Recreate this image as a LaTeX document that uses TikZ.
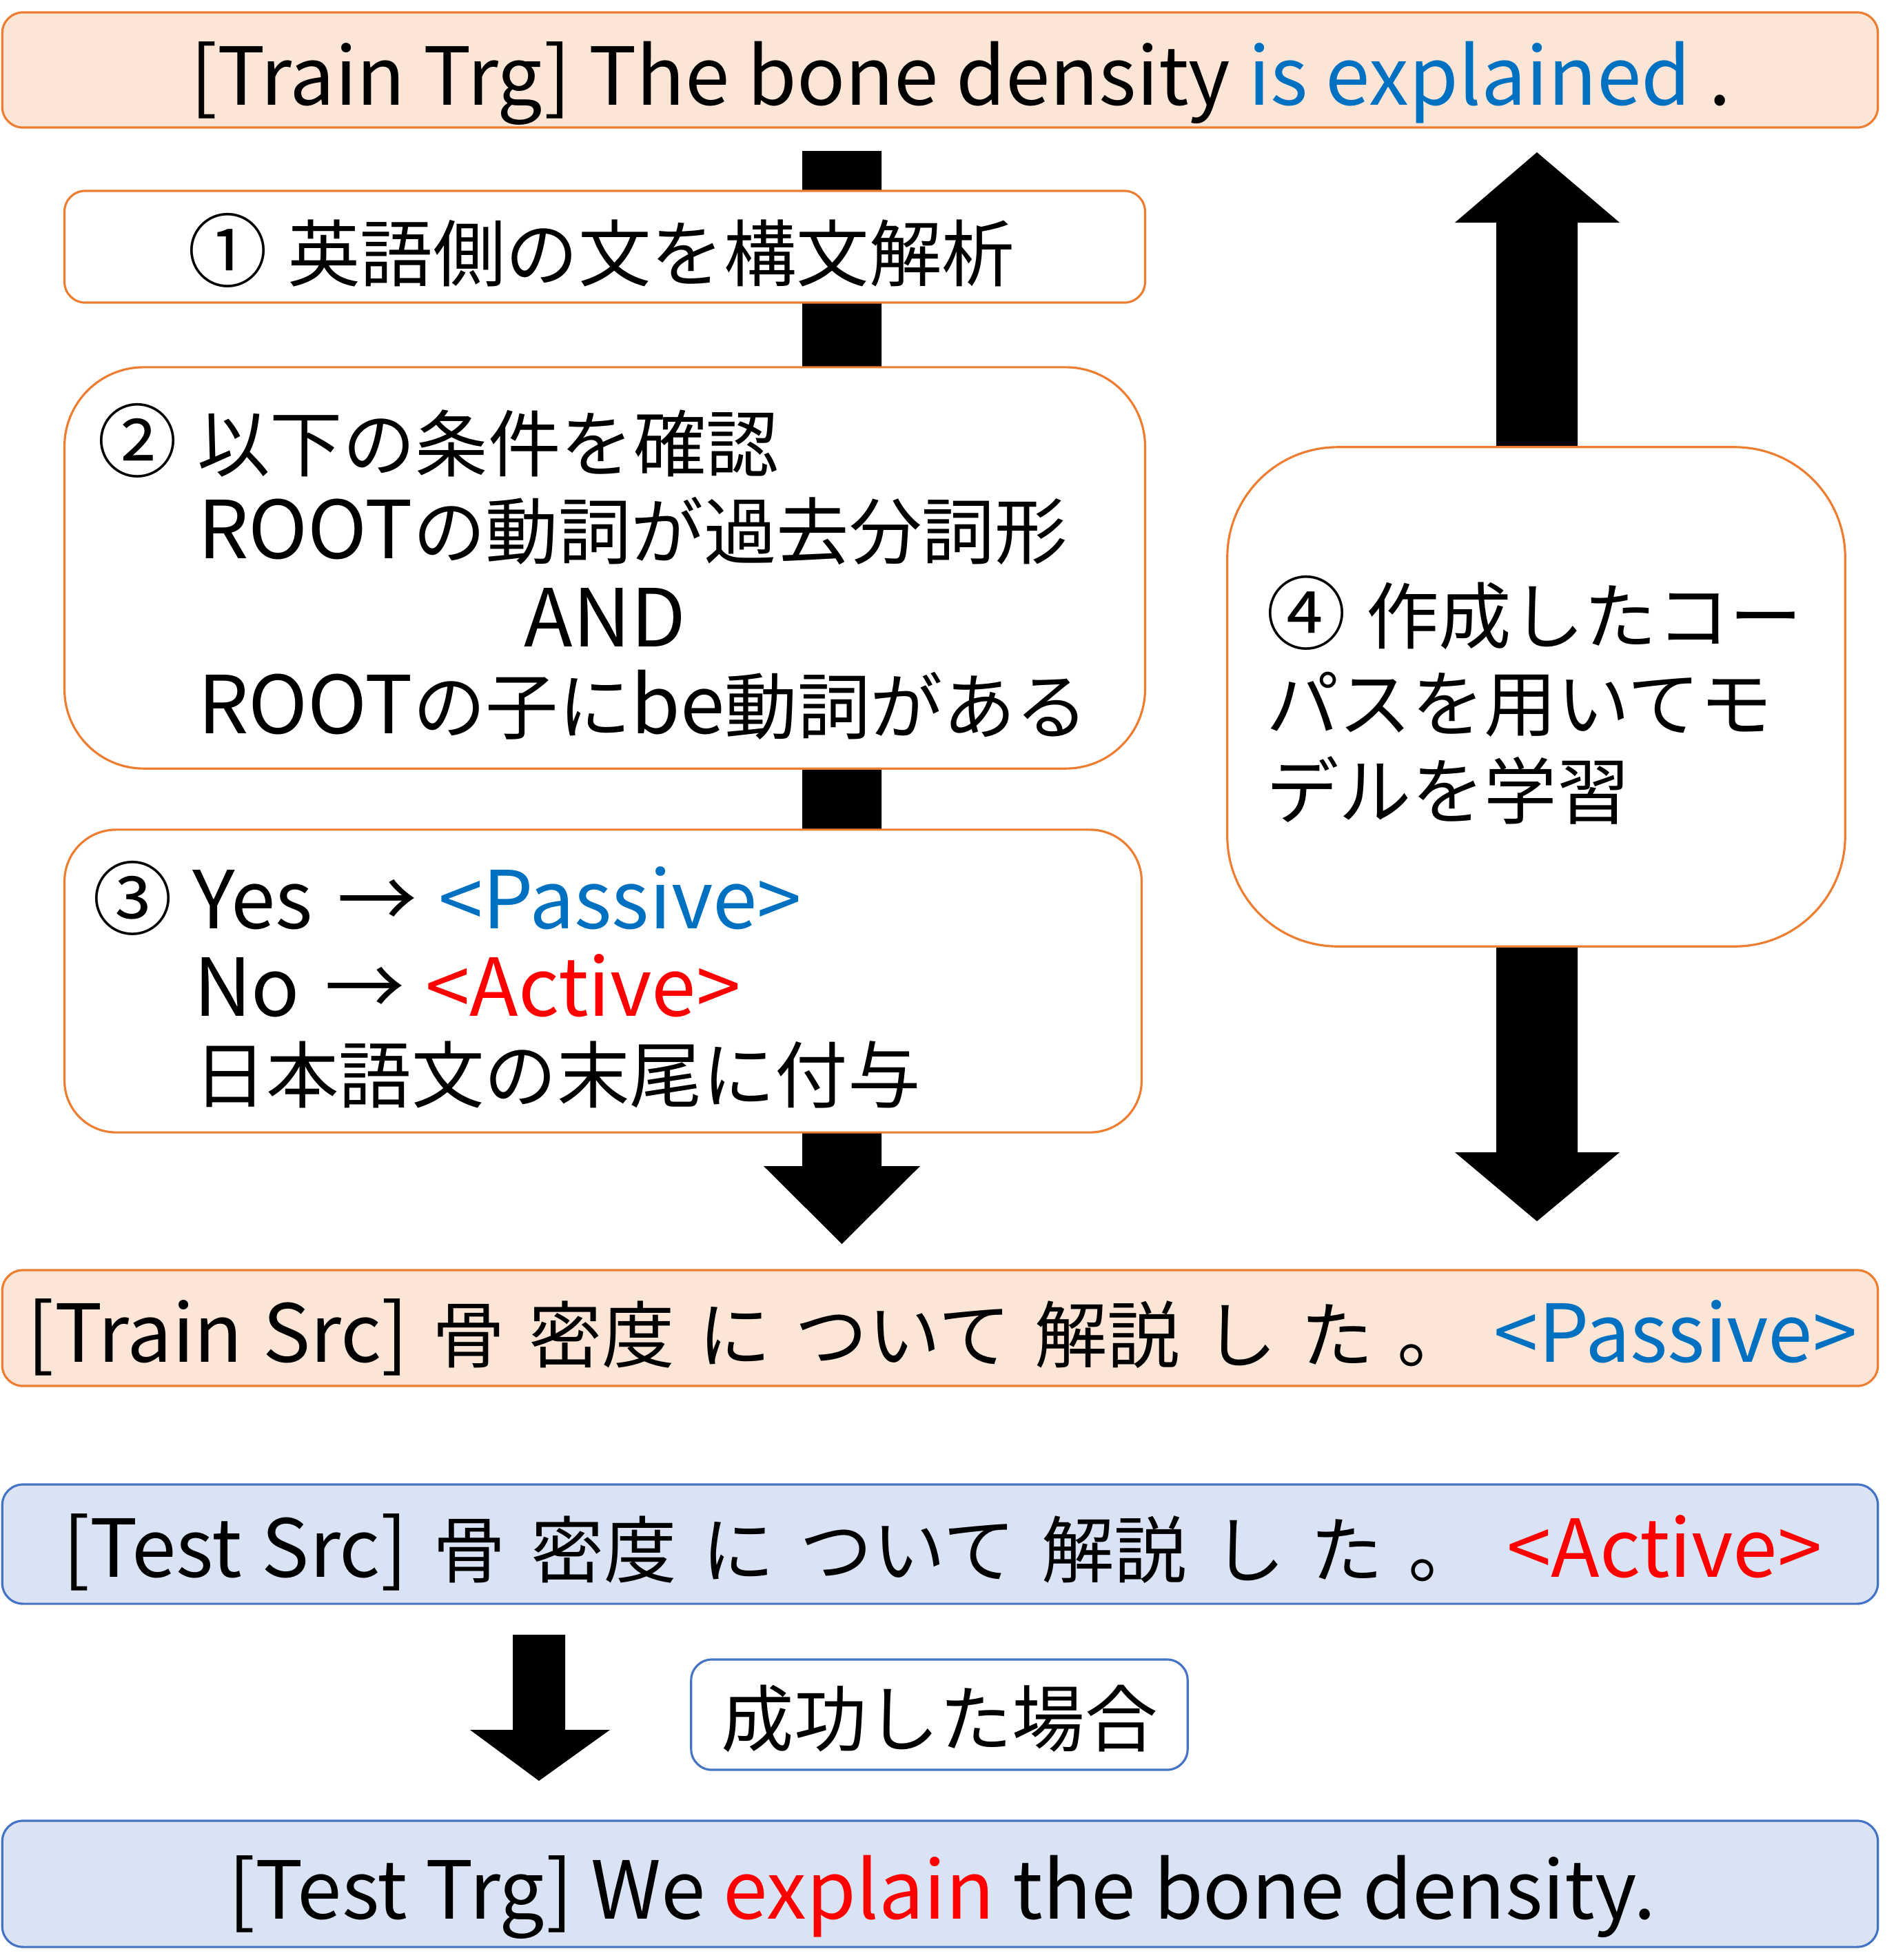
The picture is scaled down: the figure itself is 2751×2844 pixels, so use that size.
\documentclass[tikz,border=0pt]{standalone}
\usepackage{fontspec}
\setmainfont{Noto Sans CJK JP}
\definecolor{peach}{HTML}{FBE5D6}
\definecolor{orng}{HTML}{ED7D31}
\definecolor{lblue}{HTML}{DAE3F3}
\definecolor{bblue}{HTML}{4472C4}
\definecolor{txtblue}{HTML}{0070C0}
\definecolor{txtred}{HTML}{FF0000}
\newcommand{\lat}[1]{{\fontsize{33}{36}\selectfont #1}}
\newcommand{\cnum}[1]{\makebox[1.45cm][l]{\fontsize{33}{36}\selectfont #1}}
\newcommand{\rarr}{\hspace{0.36cm}{\fontsize{33}{36}\selectfont →}\hspace{0.3cm}}
\begin{document}
\begin{tikzpicture}[x=0.01cm,y=-0.01cm,
  every node/.style={font=\fontsize{30}{36}\selectfont, inner sep=0pt, outer sep=0pt},
  txt/.style={anchor=base west},
  ctxt/.style={anchor=base},
  bigtxt/.style={font=\fontsize{33}{36}\selectfont},
  obox/.style={draw=orng, line width=0.9pt, fill=peach, rounded corners=0.3cm},
  wobox/.style={draw=orng, line width=0.9pt, fill=white},
  bbox/.style={draw=bblue, line width=0.9pt, fill=lblue, rounded corners=0.3cm},
  wbbox/.style={draw=bblue, line width=0.9pt, fill=white, rounded corners=0.3cm}]
\useasboundingbox (0,0) rectangle (2751,2844);

% block arrows
\fill (1164,219) -- (1279,219) -- (1279,1692) -- (1335,1692) -- (1221.5,1805) -- (1108,1692) -- (1164,1692) -- cycle;
\fill (2230,221) -- (2350,323) -- (2289,323) -- (2289,1672) -- (2350,1672) -- (2230,1772) -- (2111,1672) -- (2171,1672) -- (2171,323) -- (2111,323) -- cycle;
\fill (744,2372) -- (820,2372) -- (820,2510) -- (885,2510) -- (782,2584) -- (682,2510) -- (744,2510) -- cycle;

% boxes
\node[obox, minimum width=27.2cm, minimum height=1.67cm] (trgtrain) at (1364,101.5) {};
\node[wobox, rounded corners=0.3cm, minimum width=15.67cm, minimum height=1.62cm] (s1) at (877.5,358) {};
\node[wobox, rounded corners=1.15cm, minimum width=15.67cm, minimum height=5.82cm] (s2) at (877.5,824) {};
\node[wobox, rounded corners=0.75cm, minimum width=15.62cm, minimum height=4.39cm] (s3) at (875,1423.5) {};
\node[wobox, rounded corners=1.6cm, minimum width=8.96cm, minimum height=7.24cm] (s4) at (2229,1011) {};
\node[obox, minimum width=27.2cm, minimum height=1.68cm] (srctrain) at (1364,1927) {};
\node[bbox, minimum width=27.2cm, minimum height=1.73cm] (srctest) at (1364,2240.5) {};
\node[wbbox, minimum width=7.2cm, minimum height=1.6cm] (succ) at (1363,2488) {};
\node[bbox, minimum width=27.2cm, minimum height=1.83cm] (trgtest) at (1364,2733.5) {};

% texts
\node[txt, bigtxt] (t0) at (276,152) {[Train Trg] The bone density \textcolor{txtblue}{is explained} .};
\node[txt] (t1) at (272,407) {\cnum{①}英語側の文を構文解析};
\node[txt] (t2a) at (141,683) {\cnum{②}以下の条件を確認};
\node[txt] (t2b) at (287,810) {\lat{ROOT}の動詞が過去分詞形};
\node[ctxt, bigtxt] (t2c) at (878,938) {AND};
\node[txt] (t2d) at (287,1064) {\lat{ROOT}の子に\lat{be}動詞がある};
\node[txt] (t3a) at (134,1347) {\cnum{③}\lat{Yes}\rarr\textcolor{txtblue}{\lat{<Passive>}}};
\node[txt] (t3b) at (281,1474) {\lat{No}\rarr\textcolor{txtred}{\lat{<Active>}}};
\node[txt] (t3c) at (281,1599) {日本語文の末尾に付与};
\node[txt] (t4a) at (1837,933) {\cnum{④}作成したコー};
\node[txt] (t4b) at (1837,1060) {パスを用いてモ};
\node[txt] (t4c) at (1837,1187) {デルを学習};
\node[txt] (t5) at (40,1976) {\makebox[26.53cm][s]{\lat{[Train\hspace{0.25em}Src]} 骨 密度 に ついて 解説 し た 。 \textcolor{txtblue}{\lat{<Passive>}}}};
\node[txt] (t6) at (91,2288) {\makebox[25.51cm][s]{\lat{[Test\hspace{0.25em}Src]} 骨 密度 に ついて 解説 し た 。 \textcolor{txtred}{\lat{<Active>}}}};
\node[ctxt] (t7) at (1363,2533) {成功した場合};
\node[ctxt, bigtxt] (t8) at (1367,2784) {[Test Trg] We \textcolor{txtred}{explain} the bone density.};
\end{tikzpicture}
\end{document}
